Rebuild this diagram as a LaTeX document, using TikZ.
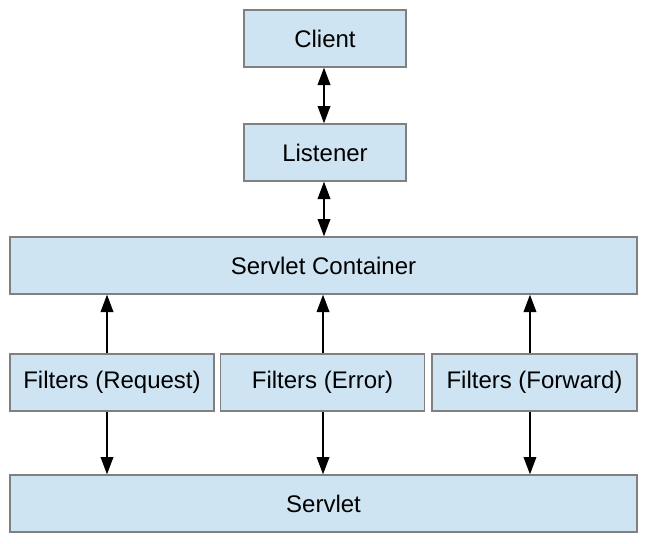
\documentclass[tikz,border=0pt]{standalone}
\usepackage{fontspec}
\setmainfont{Liberation Sans}
\usetikzlibrary{arrows.meta,positioning}
\definecolor{boxfill}{HTML}{CFE4F3}
\definecolor{boxline}{HTML}{808080}

\begin{document}
\begin{tikzpicture}[x=0.75pt,y=-0.75pt,
  box/.style={draw=boxline,line width=1pt,fill=boxfill,inner sep=0pt,
    minimum height=42.75pt,font=\fontsize{18}{21.6}\selectfont},
  small/.style={box,minimum width=121.5pt},
  wide/.style={box,minimum width=470.25pt},
  filter/.style={box,minimum width=153pt},
  >={Triangle[width=9.5pt,length=13pt]},line width=1.1pt]
  \useasboundingbox (0,0) rectangle (648,543);
  \node[small] (client) at (325,38.5) {Client};
  \node[small] (listener) at (325,152.5) {Listener};
  \node[wide] (container) at (323.5,265.5) {Servlet Container};
  \node[filter] (request) at (112,382.5) {Filters (Request)};
  \node[filter] (error) at (322.5,382.5) {Filters (Error)};
  \node[filter,minimum width=153.75pt] (forward) at (534.5,382.5) {Filters (Forward)};
  \node[wide] (servlet) at (323.5,503.5) {Servlet};
  \path[<->]
  ([xshift=-0.75pt]client.south) edge ([xshift=-0.75pt]listener.north)
  ([xshift=-0.75pt]listener.south) edge ([xshift=-0.75pt]listener.south |- container.north)
  ;
  \path[->]
  ([xshift=-3.75pt]request.north) edge ([xshift=-3.75pt]request.north |- container.south)
  ([xshift=0.4pt]error.north) edge ([xshift=0.4pt]error.north |- container.south)
  ([xshift=-3.4pt]forward.north) edge ([xshift=-3.4pt]forward.north |- container.south)
  ([xshift=-3.75pt]request.south) edge ([xshift=-3.75pt]request.south |- servlet.north)
  ([xshift=0.4pt]error.south) edge ([xshift=0.4pt]error.south |- servlet.north)
  ([xshift=-3.4pt]forward.south) edge ([xshift=-3.4pt]forward.south |- servlet.north)
  ;
\end{tikzpicture}
\end{document}
